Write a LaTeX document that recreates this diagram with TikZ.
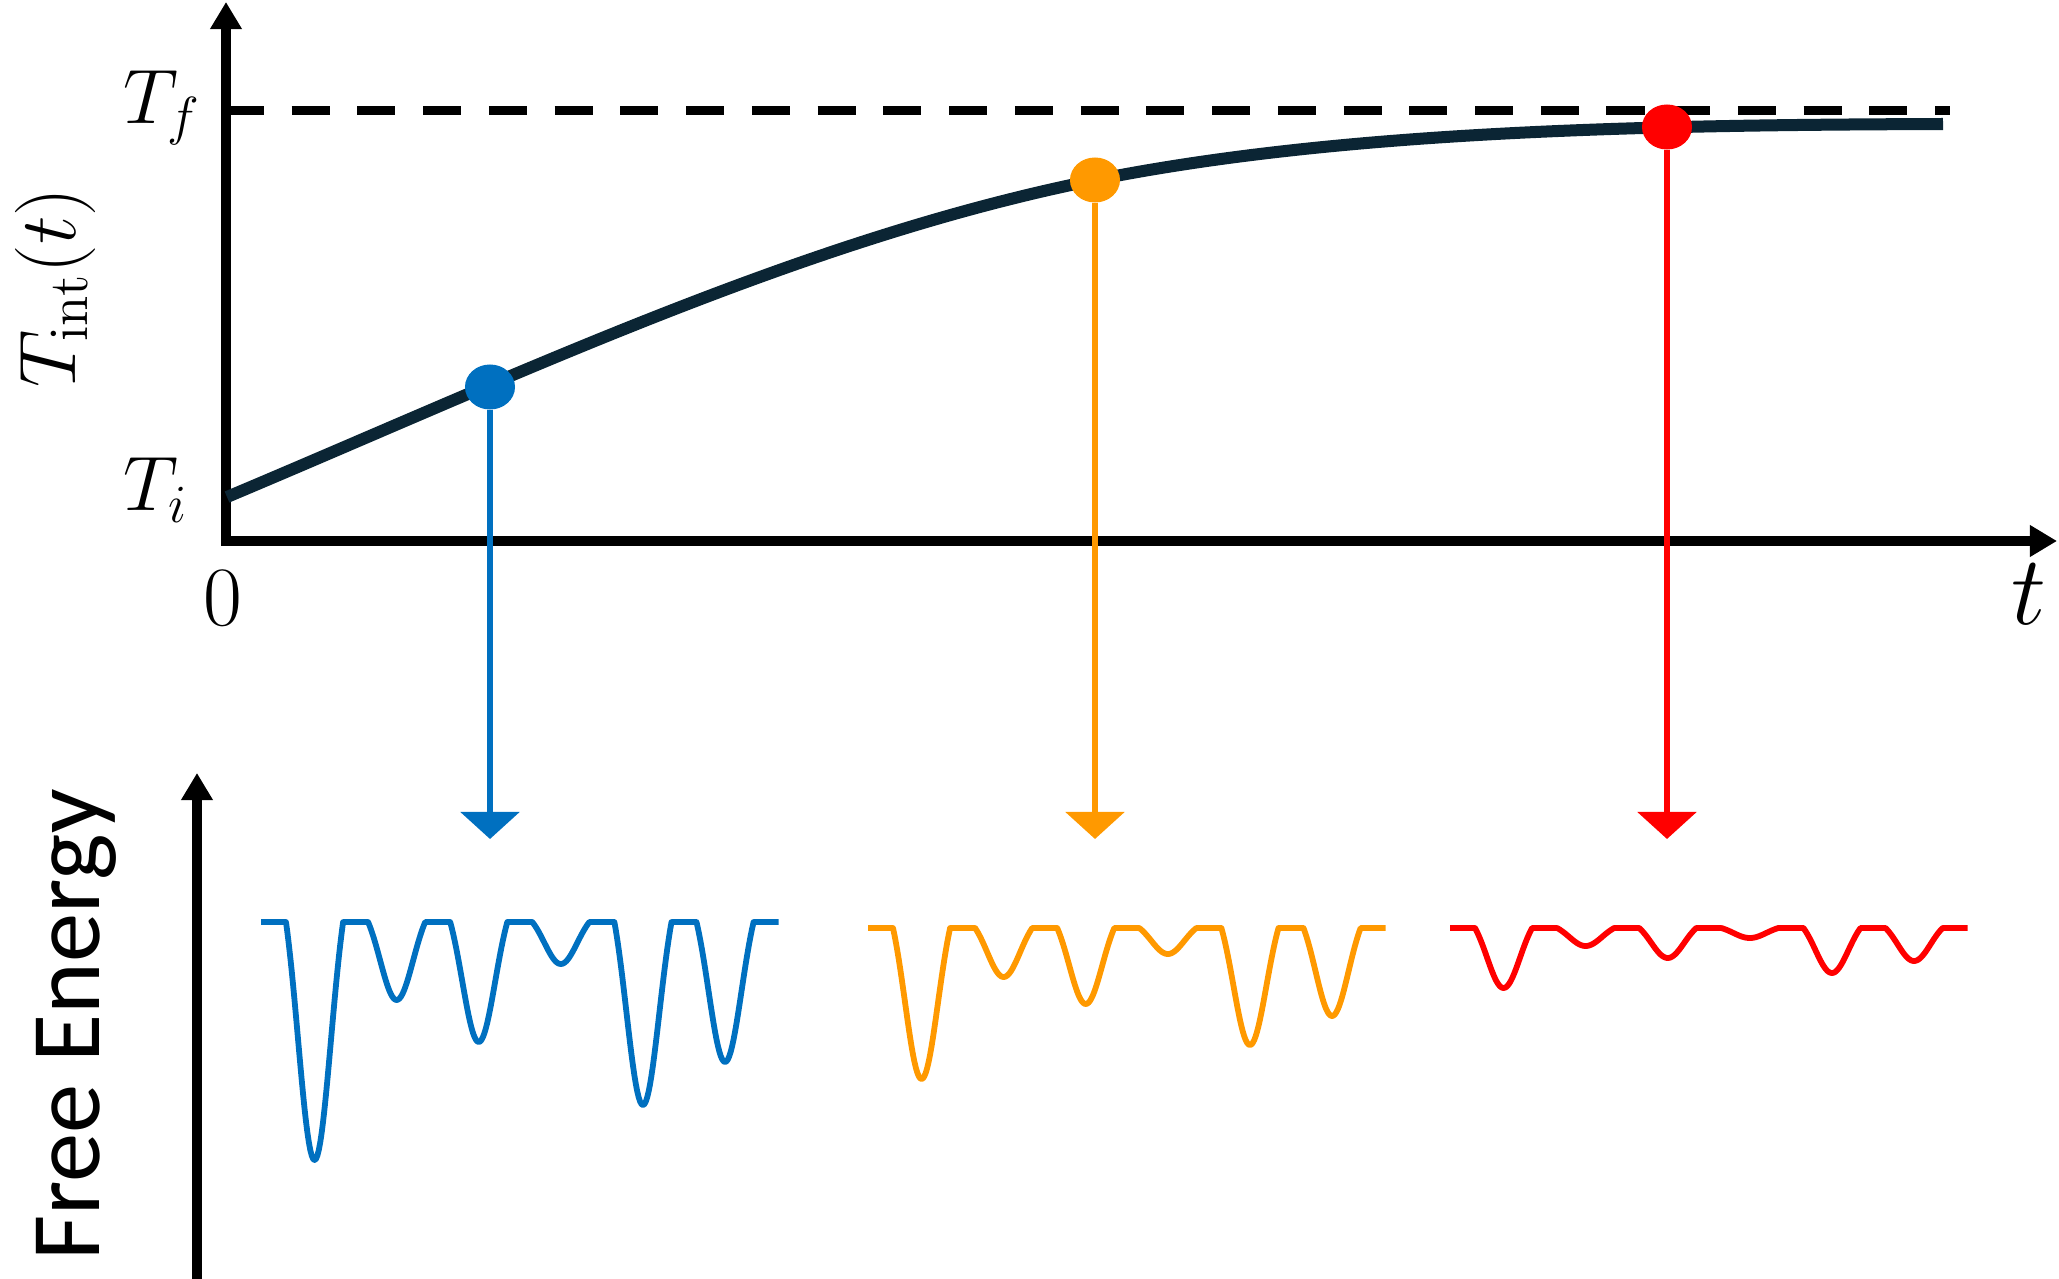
\documentclass[tikz,border=0pt]{standalone}
\usepackage{fontspec}
\newfontfamily\fefont{Carlito}
\usetikzlibrary{arrows.meta,shapes.geometric}
\definecolor{cblue}{RGB}{0,112,192}
\definecolor{corange}{RGB}{255,153,0}
\definecolor{cred}{RGB}{255,0,0}
\definecolor{cnavy}{RGB}{11,37,52}
\newcommand\fland[4]{%
  \draw[land,#3] (#1,#2) -- ++(25,0)
    foreach \dep [count=\k from 0] in {#4} {
      -- plot[domain=-1:1,samples=41] ({#1+25+\k*82.1+28.55*(\x+1)},{#2+\dep*(exp(-1.5*(\x)*(\x))-0.22313)/0.77687})
      -- ({#1+25+\k*82.1+57.1+25},#2)
    };
}
\newcommand\bigmath[2]{\scalebox{#1}{\fontsize{20.74}{24}\selectfont$#2$}}
\begin{document}
\begin{tikzpicture}[x=0.01cm,y=-0.01cm,
  axisline/.style={line width=0.09cm, black},
  axtip/.style={-{Triangle[width=0.3cm,length=0.27cm]}},
  dropline/.style={line width=0.06cm, -{Triangle[width=0.58cm,length=0.27cm]}},
  dot/.style={ellipse, inner sep=0pt, minimum width=0.5cm, minimum height=0.45cm},
  land/.style={line width=0.058cm, line join=round},
  lbl/.style={inner sep=0pt},
]
\useasboundingbox (0,0) rectangle (2059,1279);

% axes
\coordinate (ytop) at (226,2);
\coordinate (orig) at (226,541);
\coordinate (xend) at (2057,541);
\draw[axisline, {Triangle[width=0.3cm,length=0.27cm]}-{Triangle[width=0.3cm,length=0.27cm]}] (ytop) -- (orig) -- (xend);

% T_f dashed level
\coordinate (tfl) at (226,111);
\coordinate (tfr) at (1950,111);
\draw[line width=0.09cm, dash pattern=on 0.38cm off 0.277cm] (tfl) -- (tfr);

% curve
\coordinate (cstart) at (227,497);
\coordinate (cmid) at (1095,180);
\coordinate (cend) at (1943,124);
\draw[line width=0.12cm, cnavy] (cstart) .. controls (517,375) and (805,238) .. (cmid)
  .. controls (1345,130) and (1650,125) .. (cend);

% dots
\node[dot, fill=cblue] (bd) at (490,387) {};
\node[dot, fill=corange] (od) at (1095,180) {};
\node[dot, fill=cred] (rd) at (1667,127) {};

% drop arrows
\coordinate (ba) at (490,839);
\coordinate (oa) at (1095,839);
\coordinate (ra) at (1667,839);
\draw[dropline, cblue] (bd.south) -- (ba);
\draw[dropline, corange] (od.south) -- (oa);
\draw[dropline, cred] (rd.south) -- (ra);

% free energy axis
\coordinate (feb) at (197,1279);
\coordinate (fet) at (197,773);
\draw[axisline, axtip] (feb) -- (fet);

% landscapes
\fland{261}{922}{cblue}{238,78,120,42,183,140}
\fland{868}{928}{corange}{151,49,76,26,117,88}
\fland{1450}{928}{cred}{60,18,30,10,45,33}

% labels
\node[lbl] (tf) at (162,108) {\bigmath{1.06}{T_f}};
\node[lbl] (ti) at (156,490) {\bigmath{1.06}{T_i}};
\node[lbl, rotate=90] (tint) at (55,288) {\bigmath{1.1}{T_{\mathrm{int}}(t)}};
\node[lbl, font=\fontsize{24}{28}\selectfont] (zero) at (223,598) {0};
\node[lbl] (tlab) at (2029,594) {\bigmath{1.35}{t}};
\node[lbl, rotate=90, font=\fefont\fontsize{28}{32}\selectfont] (fe) at (76,1025) {Free Energy};
\end{tikzpicture}
\end{document}
